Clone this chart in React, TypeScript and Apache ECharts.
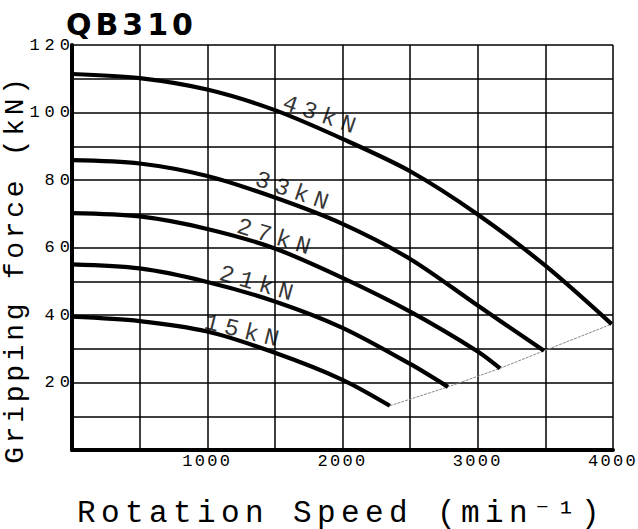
import React, { useEffect, useRef } from "react";
import * as echarts from "echarts";

// ---- axes ----
const X_MIN = 0;
const X_MAX = 4000;
const X_STEP = 500;
const Y_MIN = 0;
const Y_MAX = 120;
const Y_STEP = 10;
const X_TICK_LABELS = [1000, 2000, 3000, 4000];
const Y_TICK_LABELS = [20, 40, 60, 80, 100, 120];

const TITLE = "QB310";
const X_NAME = "Rotation Speed (min\u207B\u00B9)";
const Y_NAME = "Gripping force (kN)";

// ---- curves: [rotation speed (min^-1), gripping force (kN)] ----
const CURVE_43KN = [
  [0, 111.4], [500, 110.2], [1000, 106.8], [1500, 100.7], [2000, 92.2],
  [2500, 82.6], [3000, 69.8], [3500, 54.6], [3990, 37.3],
];
const CURVE_33KN = [
  [0, 85.9], [500, 84.9], [1000, 81.2], [1500, 74.8], [2000, 67.0],
  [2500, 56.6], [3000, 42.8], [3490, 29.4],
];
const CURVE_27KN = [
  [0, 70.2], [500, 69.2], [1000, 65.5], [1500, 59.7], [2000, 51.0],
  [2500, 41.0], [3000, 29.2], [3165, 24.2],
];
const CURVE_21KN = [
  [0, 55.0], [500, 53.8], [1000, 49.8], [1500, 44.0], [2000, 36.2],
  [2500, 25.5], [2780, 18.7],
];
const CURVE_15KN = [
  [0, 39.5], [500, 38.2], [1000, 35.1], [1500, 28.8], [2000, 20.8],
  [2350, 13.1],
];
const CURVE_NAMES = ["43kN", "33kN", "27kN", "21kN", "15kN"];
const CURVES = [CURVE_43KN, CURVE_33KN, CURVE_27KN, CURVE_21KN, CURVE_15KN];

// ---- curve annotations (data coordinates) ----
const LABEL_TEXT = ["43kN", "33kN", "27kN", "21kN", "15kN"];
const LABEL_SPEED = [1848, 1645, 1512, 1383, 1275];
const LABEL_FORCE = [99.0, 76.4, 62.8, 49.0, 35.0];
const LABEL_ANGLE = [19, 19, 17, 16, 14];

const MONO = "'Liberation Mono', 'DejaVu Sans Mono', monospace";

export default function App() {
  const ref = useRef<HTMLDivElement>(null);

  useEffect(() => {
    const el = ref.current;
    if (!el) return;
    const chart = echarts.init(el, undefined, { renderer: "svg" });

    const limitLine = CURVES.map((c) => c[c.length - 1]).sort((a, b) => a[0] - b[0]);

    const curveSeries = CURVES.map((data, i) => ({
      name: CURVE_NAMES[i],
      type: "line",
      data,
      smooth: 0.3,
      symbol: "none",
      lineStyle: { color: "#000", width: 4.2 },
      z: 5,
    }));

    const labelSeries = LABEL_TEXT.map((t, i) => ({
      name: "label-" + t,
      type: "scatter",
      data: [[LABEL_SPEED[i], LABEL_FORCE[i]]],
      symbolSize: 0,
      silent: true,
      z: 6,
      label: {
        show: true,
        position: "inside",
        formatter: () => t,
        rotate: -LABEL_ANGLE[i],
        color: "#000",
        fontFamily: MONO,
        fontSize: 24,
        align: "center",
        verticalAlign: "middle",
      },
    }));

    const option: any = {
      animation: false,
      backgroundColor: "#fff",
      grid: {
        left: 72,
        right: 25,
        top: 45,
        bottom: 79,
        containLabel: false,
        outerBoundsMode: "none",
      },
      xAxis: {
        type: "value",
        min: X_MIN,
        max: X_MAX,
        interval: X_STEP,
        axisLine: { show: true, lineStyle: { color: "#000", width: 4 } },
        axisTick: { show: false },
        splitLine: { show: true, lineStyle: { color: "#000", width: 1.5 } },
        axisLabel: {
          margin: 3,
          color: "#000",
          fontFamily: MONO,
          fontSize: 17,
          showMinLabel: true,
          showMaxLabel: true,
          formatter: (v: number) => (X_TICK_LABELS.includes(v) ? String(v) : ""),
        },
      },
      yAxis: {
        type: "value",
        min: Y_MIN,
        max: Y_MAX,
        interval: Y_STEP,
        axisLine: { show: true, lineStyle: { color: "#000", width: 4 } },
        axisTick: { show: false },
        splitLine: { show: true, lineStyle: { color: "#000", width: 1.5 } },
        axisLabel: {
          margin: -3,
          color: "#000",
          fontFamily: MONO,
          fontSize: 17,
          showMinLabel: true,
          showMaxLabel: true,
          formatter: (v: number) => (Y_TICK_LABELS.includes(v) ? String(v) : ""),
        },
      },
      graphic: [
        {
          type: "text",
          x: 66,
          y: 24,
          style: {
            text: TITLE,
            fill: "#000",
            font: "bold 30px 'DejaVu Sans', sans-serif",
            textAlign: "left",
            textVerticalAlign: "middle",
            align: "left",
            verticalAlign: "middle",
          },
        },
        {
          type: "text",
          x: 341,
          y: 513,
          style: {
            text: X_NAME,
            fill: "#000",
            font: "31px " + MONO,
            textAlign: "center",
            textVerticalAlign: "middle",
            align: "center",
            verticalAlign: "middle",
          },
        },
        {
          type: "text",
          x: 15.5,
          y: 269,
          rotation: Math.PI / 2,
          style: {
            text: Y_NAME,
            fill: "#000",
            font: "28px " + MONO,
            textAlign: "center",
            textVerticalAlign: "middle",
            align: "center",
            verticalAlign: "middle",
          },
        },
      ],
      series: [
        ...curveSeries,
        {
          name: "limit",
          type: "line",
          data: limitLine,
          symbol: "none",
          lineStyle: { color: "#888", width: 1, type: [3, 1] },
          z: 4,
        },
        ...labelSeries,
      ],
    };

    const applySpacing = () => {
      const svg = el.querySelector("svg");
      if (!svg) return;
      svg.querySelectorAll("text").forEach((t) => {
        const s = (t.textContent || "").trim();
        let ls = 0;
        if (s === TITLE) ls = 4;
        else if (s === X_NAME) ls = 5.4;
        else if (s === Y_NAME) ls = 3.7;
        else if (LABEL_TEXT.includes(s)) ls = 6;
        else if (s === "1000" || s === "2000" || s === "3000" || s === "4000") ls = 2.3;
        else if (/^\d+$/.test(s)) ls = 5;
        (t as SVGElement).style.letterSpacing = ls + "px";
      });
    };

    chart.on("finished", applySpacing);
    chart.setOption(option);
    applySpacing();
    const raf = requestAnimationFrame(applySpacing);
    const tm = setTimeout(applySpacing, 60);

    return () => {
      cancelAnimationFrame(raf);
      clearTimeout(tm);
      chart.dispose();
    };
  }, []);

  return (
    <div
      ref={ref}
      style={{ position: "absolute", left: 0, top: 0, width: 638, height: 529 }}
    />
  );
}
